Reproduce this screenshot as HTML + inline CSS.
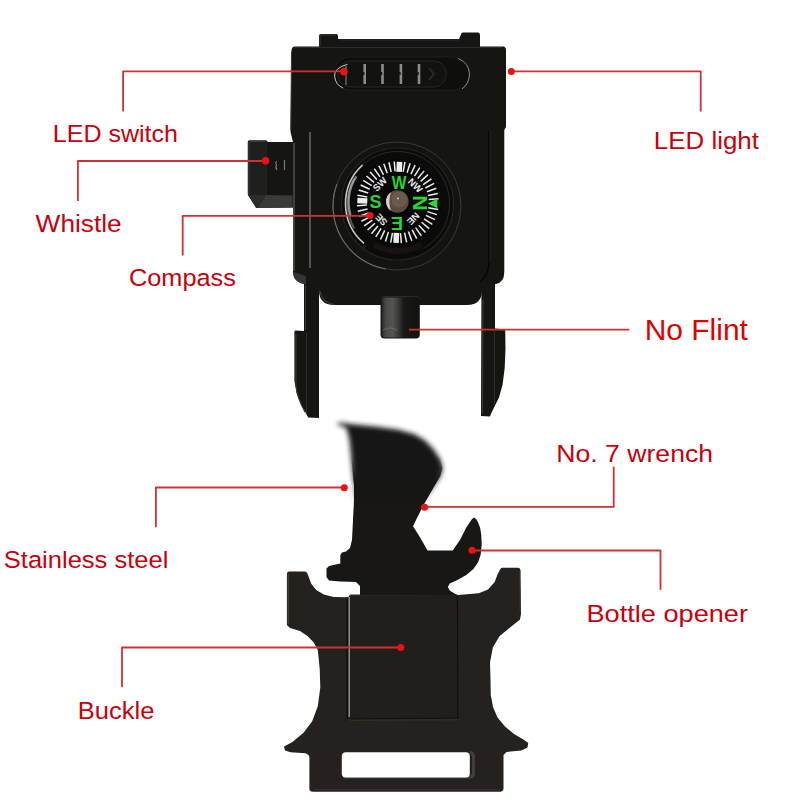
<!DOCTYPE html>
<html><head><meta charset="utf-8">
<style>
html,body{margin:0;padding:0;background:#fff;}
svg{display:block;}
.t{font-family:"Liberation Sans",sans-serif;fill:#c8000c;}
</style></head>
<body>
<svg width="800" height="800" viewBox="0 0 800 800">
<defs>
 <filter id="blur2" x="-20%" y="-20%" width="140%" height="140%"><feGaussianBlur stdDeviation="2.6"/></filter>
 <clipPath id="ctop"><rect x="0" y="0" width="800" height="475"/></clipPath>
 <clipPath id="cbot"><rect x="0" y="475" width="800" height="325"/></clipPath>
<path id="ss" d="M336.5,424 L340,422.5 L352.5,424.25 L375,426.5 L397.5,429.5 L414,434 L424.5,440 L433.5,449 L440.25,459.5 L442.5,468.5 L440.25,476 L435,485 L429,495.5 L423,506 L417,518 L413,526.3 L419.5,536.5 L427.6,550.4 L452.7,550.4 L460,540 L466,528 L472,519 L474,517.6 L476.5,519.5 L478.2,522.8 L480.2,528 L481.2,534.7 L481.75,544.2 L480.6,554.9 L478.2,562 L473.4,569.1 L466.3,575 L458,579.8 L449.7,583.4 L447.9,587 L449.7,590.5 L454.4,593.5 L458,595 L360,595 L360,586 L356,582 L340,581.5 L329,580.5 L326.5,577 L326.5,568.5 L329,566 L340.3,563.5 L340.3,555 L342,552.5 L346,551.5 L350,548 L352,540 L353,520 L354,500 L354,485 L352.5,470 L351,455 L349.5,440 L346.5,428 Z"/>
<linearGradient id="gtop" gradientUnits="userSpaceOnUse" x1="0" y1="478" x2="0" y2="505"><stop offset="0" stop-color="#fff"/><stop offset="1" stop-color="#000"/></linearGradient>
 <linearGradient id="gbot" gradientUnits="userSpaceOnUse" x1="0" y1="455" x2="0" y2="480"><stop offset="0" stop-color="#000"/><stop offset="1" stop-color="#fff"/></linearGradient>
 <mask id="mtop" maskUnits="userSpaceOnUse" x="0" y="0" width="800" height="800"><rect width="800" height="800" fill="url(#gtop)"/></mask>
 <mask id="mbot" maskUnits="userSpaceOnUse" x="0" y="0" width="800" height="800"><rect width="800" height="800" fill="url(#gbot)"/></mask>
<linearGradient id="gflint" x1="0" y1="0" x2="1" y2="0"><stop offset="0" stop-color="#222220"/><stop offset="0.12" stop-color="#4a4a48"/><stop offset="0.3" stop-color="#545452"/><stop offset="0.45" stop-color="#3a3a38"/><stop offset="0.6" stop-color="#181816"/><stop offset="1" stop-color="#121210"/></linearGradient>
</defs>
<rect width="800" height="800" fill="#fff"/>

<!-- ===== TOP DEVICE ===== -->
<g fill="#151612">
 <!-- top tab -->
 <path d="M319,48 L319,36 Q319,34 321,34 L336,34 Q338,34 338,36 L338,39 L459,39 L461,34.5 Q461,32.5 463,32.5 L478,32.5 Q480,32.5 480,35 L480,48 Z"/>
 <!-- outer body -->
 <path d="M294.5,46.5 L503,46.5 Q506,46.5 506,50 L506,127 L504.3,130 L504.3,272 Q504.3,282 496,284 L305,284 Q293,282 293,272 L293,142 L290.5,132 L291.5,50 Q292,46.5 294.5,46.5 Z"/>
 <!-- base plate -->
 <path d="M319,270 L482,270 L482,290 Q482,305 467,305 L334,305 Q319,305 319,290 Z"/>
 <!-- left leg + flange -->
 <path d="M304,272 L319,272 L319,418 L308.2,417.5 L302.5,407 L296.8,394 L294.4,381 L294.4,332 L295,330.5 L304,331 Z"/>
 <!-- right leg + flange -->
 <path d="M481.5,272 L495,272 L495,328.5 L505.2,329.5 L505.5,349 L504.7,368 L502.6,384.5 L499,397.5 L493.3,409 L490.9,414 L490,416.5 L481,416 Z"/>
 <!-- flint -->
 <path d="M380.5,300 L419.8,300 L419.8,334.5 Q419.8,338.5 415.8,338.5 L384.5,338.5 Q380.5,338.5 380.5,334.5 Z"/>
 <!-- whistle -->
 <path d="M247.75,142 Q247.75,140.25 249.5,140.25 L266,140.25 L268,142 L293,142 L293,207.5 L256.25,208 L247.75,194 Z"/>
</g>

<!-- body details -->
<g>
 <!-- tab highlights -->
 <path d="M320,46 L320,36 Q320,35 322,35 L336,35" stroke="#3a3a38" stroke-width="1" fill="none"/>
 <path d="M339,40 L460,40" stroke="#2a2a28" stroke-width="1" fill="none"/>
 <!-- upper body top edge -->
 <path d="M293,49 Q293,47.5 295,47.5 L502,47.5" stroke="#2c2c2a" stroke-width="1" fill="none"/>
 <!-- left rail highlights -->
 <path d="M294,143 L294,271" stroke="#6a6a66" stroke-width="1" fill="none"/>
 <path d="M310,132 L310,268" stroke="#8a8a86" stroke-width="1.1" fill="none"/>
 <path d="M291.5,52 L290.8,130" stroke="#3a3a38" stroke-width="1" fill="none"/>
 <!-- right rail line -->
 <path d="M489,130 L489,264 Q488,276 480,282" stroke="#050505" stroke-width="1.4" fill="none"/>
 <path d="M490.2,130 L490.2,262" stroke="#2c2c2a" stroke-width="0.8" fill="none"/>
 <!-- bottom-left corner face -->
 <path d="M293.5,272 Q294,282 304,284 L306,284 L306,276 Z" fill="#343432"/>
 <!-- base plate edge -->
 <path d="M320,291 Q322,303 335,304.5" stroke="#3c3c3a" stroke-width="1.2" fill="none"/>
 <!-- slider -->
 <rect x="334" y="57" width="136" height="33" rx="16.5" fill="#0e0e0d" stroke="#1f1f1d" stroke-width="1"/>
 <rect x="338" y="61" width="108" height="26" rx="12" fill="#121211" stroke="#262624" stroke-width="1"/>
 <path d="M347.5,64.3 Q334,68 334.6,76 Q335.5,85 343,88" stroke="#c8c8c4" stroke-width="1" fill="none"/>
 <path d="M346,66 L346,85" stroke="#777" stroke-width="1.2" fill="none"/>
 <path d="M458,58.5 Q469,63 469.5,74 Q469,84 462,89" stroke="#8a8a86" stroke-width="1" fill="none"/>
 <g fill="#8c8c88">
  <rect x="363.4" y="64" width="2.6" height="20"/>
  <rect x="381.2" y="64" width="2.6" height="20"/>
  <rect x="399.6" y="64" width="2.6" height="20"/>
  <rect x="417.7" y="64" width="2.6" height="20"/>
 </g>
 <g fill="#121211">
  <rect x="363" y="72" width="1.4" height="3"/><rect x="380.8" y="72" width="1.4" height="3"/><rect x="399.2" y="72" width="1.4" height="3"/><rect x="417.3" y="72" width="1.4" height="3"/>
 </g>
 <path d="M429,68 L434,74 L429,80" stroke="#2e2e2c" stroke-width="1.5" fill="none"/>
 <!-- whistle shading -->
 <path d="M249,194 L249,143 Q249,141.5 250.5,141.5 L265,141.5" stroke="#3a3a38" stroke-width="1" fill="none"/>
 <path d="M266.2,142 L266.2,196" stroke="#2a2a28" stroke-width="1" fill="none"/>
 <path d="M247.75,194.5 L292.5,195.5 L292.5,207.5 L256.25,208 Z" fill="#3a3a39"/>
 <path d="M247.75,194.5 L266,195.2 L258,208 L256.25,208 Z" fill="#2c2c2b"/>
 <rect x="248.5" y="141" width="17.5" height="54" fill="#1f1f1e"/>
 <path d="M249,194 L249,143 Q249,141.5 250.5,141.5 L265,141.5" stroke="#3a3a38" stroke-width="1" fill="none"/>
 <path d="M276.5,161 Q275,163 276.5,165 Q275,167.5 277,170 M284.5,160 L284.5,170" stroke="#7a7a78" stroke-width="1.2" fill="none"/>
 <!-- leg highlights -->
 <path d="M305.5,285 L305.5,330" stroke="#3a3a38" stroke-width="1" fill="none"/>
 <path d="M296,334 L296,385 Q297,398 305,412" stroke="#353533" stroke-width="1.2" fill="none"/>
 <path d="M306.5,333 L306.5,414" stroke="#2e2e2c" stroke-width="1" fill="none"/>
 <path d="M483,300 L482.5,414" stroke="#3a3a38" stroke-width="1.1" fill="none"/>
 <path d="M494.5,331 L494.5,405" stroke="#2e2e2c" stroke-width="1" fill="none"/>
 <!-- flint shading -->
 <path d="M381.5,299 Q381.5,297.5 383.5,297.5 L416.8,297.5 Q418.8,297.5 418.8,299 L418.8,334.5 Q418.8,337.5 415.8,337.5 L384.5,337.5 Q381.5,337.5 381.5,334.5 Z" fill="url(#gflint)"/>
 <path d="M381,298 Q381,296.5 384,296.5 L416,296.5 Q419.5,296.5 419.5,298.5" stroke="#2a2a28" stroke-width="1" fill="none"/>
 <path d="M383,330 Q390,326 397,330" stroke="#6a6a68" stroke-width="1" fill="none"/>
</g>

<!-- compass -->
<g>
 <circle cx="397" cy="206" r="64" fill="#131312" stroke="#3a3a38" stroke-width="1"/>
 <path d="M385.89,269.03 A64,64 0 0 1 336.86,184.11" stroke="#6a6a66" stroke-width="1.2" fill="none"/>
 <circle cx="397.5" cy="204" r="56" fill="#0b0b0a" stroke="#2a2422" stroke-width="1.2"/>
 <path d="M364.08,243.33 A52,52 0 0 1 362.71,164.86" stroke="#c4c4c0" stroke-width="1.6" fill="none"/>
 <path d="M354.20,228.50 A50,50 0 0 1 354.20,178.50" stroke="#888884" stroke-width="2" fill="none" opacity="0.6"/>
 <path d="M362.71,164.86 A52,52 0 1 1 423.50,248.53" stroke="#2a2a28" stroke-width="1" fill="none"/>
 <path d="M421.00,244.70 A47,47 0 0 1 374.00,244.70" stroke="#2a1a18" stroke-width="6" fill="none" opacity="0.45"/>
 <path d="M350.47,214.98 A49,49 0 0 1 356.25,176.33" stroke="#d8d8d4" stroke-width="2.2" fill="none" opacity="0.6"/>
 <circle cx="397.8" cy="202.3" r="43" fill="#070707"/>
 <g stroke="#ececec" stroke-width="1.5"><line x1="428.33" y1="207.68" x2="438.18" y2="209.42"/><line x1="427.37" y1="211.62" x2="436.90" y2="214.63"/><line x1="425.90" y1="215.40" x2="434.96" y2="219.63"/><line x1="423.95" y1="218.96" x2="432.38" y2="224.33"/><line x1="421.55" y1="222.23" x2="429.21" y2="228.65"/><line x1="418.74" y1="225.16" x2="425.50" y2="232.53"/><line x1="415.58" y1="227.69" x2="421.32" y2="235.89"/><line x1="412.11" y1="229.80" x2="416.73" y2="238.67"/><line x1="408.40" y1="231.43" x2="411.82" y2="240.83"/><line x1="404.51" y1="232.57" x2="406.67" y2="242.33"/><line x1="400.50" y1="233.18" x2="401.37" y2="243.14"/><line x1="392.42" y1="232.83" x2="390.68" y2="242.68"/><line x1="388.48" y1="231.87" x2="385.47" y2="241.40"/><line x1="384.70" y1="230.40" x2="380.47" y2="239.46"/><line x1="381.14" y1="228.45" x2="375.77" y2="236.88"/><line x1="377.87" y1="226.05" x2="371.45" y2="233.71"/><line x1="374.94" y1="223.24" x2="367.57" y2="230.00"/><line x1="372.41" y1="220.08" x2="364.21" y2="225.82"/><line x1="370.30" y1="216.61" x2="361.43" y2="221.23"/><line x1="368.67" y1="212.90" x2="359.27" y2="216.32"/><line x1="367.53" y1="209.01" x2="357.77" y2="211.17"/><line x1="366.92" y1="205.00" x2="356.96" y2="205.87"/><line x1="367.27" y1="196.92" x2="357.42" y2="195.18"/><line x1="368.23" y1="192.98" x2="358.70" y2="189.97"/><line x1="369.70" y1="189.20" x2="360.64" y2="184.97"/><line x1="371.65" y1="185.64" x2="363.22" y2="180.27"/><line x1="374.05" y1="182.37" x2="366.39" y2="175.95"/><line x1="376.86" y1="179.44" x2="370.10" y2="172.07"/><line x1="380.02" y1="176.91" x2="374.28" y2="168.71"/><line x1="383.49" y1="174.80" x2="378.87" y2="165.93"/><line x1="387.20" y1="173.17" x2="383.78" y2="163.77"/><line x1="391.09" y1="172.03" x2="388.93" y2="162.27"/><line x1="395.10" y1="171.42" x2="394.23" y2="161.46"/><line x1="403.18" y1="171.77" x2="404.92" y2="161.92"/><line x1="407.12" y1="172.73" x2="410.13" y2="163.20"/><line x1="410.90" y1="174.20" x2="415.13" y2="165.14"/><line x1="414.46" y1="176.15" x2="419.83" y2="167.72"/><line x1="417.73" y1="178.55" x2="424.15" y2="170.89"/><line x1="420.66" y1="181.36" x2="428.03" y2="174.60"/><line x1="423.19" y1="184.52" x2="431.39" y2="178.78"/><line x1="425.30" y1="187.99" x2="434.17" y2="183.37"/><line x1="426.93" y1="191.70" x2="436.33" y2="188.28"/><line x1="428.07" y1="195.59" x2="437.83" y2="193.43"/><line x1="428.68" y1="199.60" x2="438.64" y2="198.73"/></g>
 <g fill="#ececec"><rect x="30.5" y="-2.8" width="10" height="5.6" transform="translate(397.8,202.3) rotate(92.5)"/><rect x="30.5" y="-2.8" width="10" height="5.6" transform="translate(397.8,202.3) rotate(182.5)"/><rect x="30.5" y="-2.8" width="10" height="5.6" transform="translate(397.8,202.3) rotate(272.5)"/></g>
 <path d="M427.7,203.5 L437.4,198.8 L437.4,208.3 Z" fill="#22dd33"/>
 <g font-family="Liberation Sans" font-weight="bold" fill="#26d434">
  <text transform="translate(399,188.8) scale(0.82,1)" font-size="19" text-anchor="middle">W</text>
  <text transform="translate(375.5,207.8) scale(1,1.05)" font-size="18" text-anchor="middle">S</text>
  <text transform="translate(413,202.8) rotate(90) scale(1.15,1.05)" font-size="18.5" text-anchor="middle">N</text>
  <text transform="translate(397,216.5) rotate(180) scale(0.95,1)" font-size="19" text-anchor="middle">E</text>
 </g>
 <g font-family="Liberation Sans" font-weight="bold" fill="#e8e8e8" font-size="9.5" text-anchor="middle">
  <text transform="translate(380,184.5) rotate(-45) translate(0,3)">SW</text>
  <text transform="translate(415,185.6) rotate(45) translate(0,3)">NW</text>
  <text transform="translate(413,218.5) rotate(135) translate(0,3)">NE</text>
  <text transform="translate(381.5,219.5) rotate(-135) translate(0,3)">SE</text>
 </g>
 <circle cx="397.4" cy="201.5" r="11.3" fill="#5a4c3e"/>
 <path d="M390.9,192.2 A11.3,11.3 0 0 0 390.9,210.8 A30,30 0 0 1 390.9,192.2 Z" fill="#d8d0c6"/>
 <circle cx="399.2" cy="199.5" r="8" fill="#6a5a4a"/>
 <circle cx="397.9" cy="198.5" r="0.9" fill="#d8d0c0"/>
</g>

<!-- ===== LOWER PIECE ===== -->
<g fill="#25211e">
 <path d="M286.9,574 Q286.9,571.5 289.5,571.5 L304.5,571.5 Q307,571.5 308,575 L311.25,583.75 L316.25,590 L323.75,594.4 L333.75,596.9 L346.25,597.25 L458,595 L478.8,593.2 L488,589.4 L494.7,582 L497.5,574.4 L500.4,569 Q501,567.8 503,567.8 L518,567.8 Q520,567.8 520.5,570 L521,614 L520,619.4 L510.7,627 L499.4,636.3 L492.85,647.5 L490,662.6 L490.5,680 L490.75,695 L493,707 L497.5,717.5 L505,726.5 L514,734 L523,739.25 L528.25,743 L527.5,747.5 L521.5,750.5 L506.5,752 L503.5,755 L503.5,788 Q503.5,791.75 500,791.75 L313,791.75 Q309.4,791.75 309.4,788.5 L309.4,757 L308.5,755 L305.6,753.2 L290.6,752.3 L285,750.4 L284,746.6 L292.5,742 L303.75,732.5 L312.2,721.3 L317.8,706.3 L320.3,687.5 L319.7,668.75 L317.8,650 L313.75,642.5 L307.5,636 L300,631 L290,628 L286.9,625 Z"/>
</g>
<path d="M288.2,574 L288.2,624" stroke="#4c4845" stroke-width="1.4" fill="none" opacity="0.8"/>
<path d="M519.5,571 L520,612" stroke="#3a3633" stroke-width="1.2" fill="none" opacity="0.7"/>
<path d="M343,777 L470,777 Q473.5,777 473.5,773 L473.5,756 Q473,752.5 470,752.3" stroke="#4a4643" stroke-width="3" fill="none" opacity="0.8"/>
<path d="M314,789.5 L500,789.5" stroke="#3c3835" stroke-width="1.2" fill="none" opacity="0.7"/>
<rect x="341.8" y="752.2" width="128" height="25.4" rx="4" fill="#fff"/>
<rect x="348.75" y="595" width="108.75" height="123.5" rx="2" fill="#221e1c"/>
<path d="M347.2,597 L347.2,719" stroke="#0d0b0a" stroke-width="1.2" fill="none"/>
<path d="M349.2,597 L349.2,717" stroke="#aaa8a4" stroke-width="1.2" fill="none"/>
<path d="M350,595 L456,594.5" stroke="#3a3531" stroke-width="1" fill="none"/>
<path d="M457.5,596 L457.8,718 L351,719" stroke="#110e0d" stroke-width="1.2" fill="none"/>
<path d="M350,720.2 L458,719.8" stroke="#3a3632" stroke-width="0.8" fill="none"/>

<!-- stainless -->
<g fill="#181713">
 
 <g mask="url(#mbot)"><use href="#ss"/></g><g mask="url(#mtop)"><use href="#ss" filter="url(#blur2)"/></g>
</g>

<!-- ===== RED LINES ===== -->
<g stroke="#d23030" stroke-width="1.8" fill="none" stroke-linejoin="round">
 <polyline points="123.1,111.4 123.1,71.3 343.75,71.3"/>
 <polyline points="511.5,71.3 700.7,71.3 700.7,111.4"/>
 <polyline points="77.9,201 77.9,161 265.5,161"/>
 <polyline points="182.7,255.6 182.7,215.8 370,215.8"/>
 <polyline points="409,329.6 629.3,329.6"/>
 <polyline points="613.7,466.8 613.7,506.9 424.5,506.9"/>
 <polyline points="155.9,527.3 155.9,487.5 344.3,487.5"/>
 <polyline points="472,550.5 660.5,550.5 660.5,589.8"/>
 <polyline points="122,687.3 122,647.5 400.7,647.5"/>
</g>
<g fill="#ee1111">
 <circle cx="343.9" cy="71.8" r="3.8"/>
 <circle cx="511.3" cy="71.6" r="3.5"/>
 <circle cx="265.6" cy="160.8" r="3.7"/>
 <circle cx="370.2" cy="215.5" r="3.5"/>
 <circle cx="424.6" cy="507.2" r="3.5"/>
 <circle cx="344.3" cy="487.8" r="3.5"/>
 <circle cx="472" cy="550.3" r="3.5"/>
 <circle cx="400.8" cy="647.5" r="3.5"/>
</g>

<!-- ===== TEXT ===== -->
<g font-family="Liberation Sans" fill="#c8000c">
 <text transform="translate(52.84,141.6) scale(1.0297,1)" font-size="24.3">LED switch</text>
 <text transform="translate(35.60,232.4) scale(1.0810,1)" font-size="24.3">Whistle</text>
 <text transform="translate(128.96,285.5) scale(1.0421,1)" font-size="24.3">Compass</text>
 <text transform="translate(653.87,148.7) scale(1.0656,1)" font-size="24.3">LED light</text>
 <text transform="translate(644.70,339.75) scale(1.0227,1)" font-size="29.3" fill="#e00000">No Flint</text>
 <text transform="translate(556.31,461.5) scale(1.0957,1)" font-size="24.3">No. 7 wrench</text>
 <text transform="translate(3.75,567.5) scale(1.0513,1)" font-size="24.3">Stainless steel</text>
 <text transform="translate(586.52,621.5) scale(1.1173,1)" font-size="24.3">Bottle opener</text>
 <text transform="translate(77.64,718.75) scale(1.0536,1)" font-size="24.3">Buckle</text>
</g>
</svg>

</body></html>
